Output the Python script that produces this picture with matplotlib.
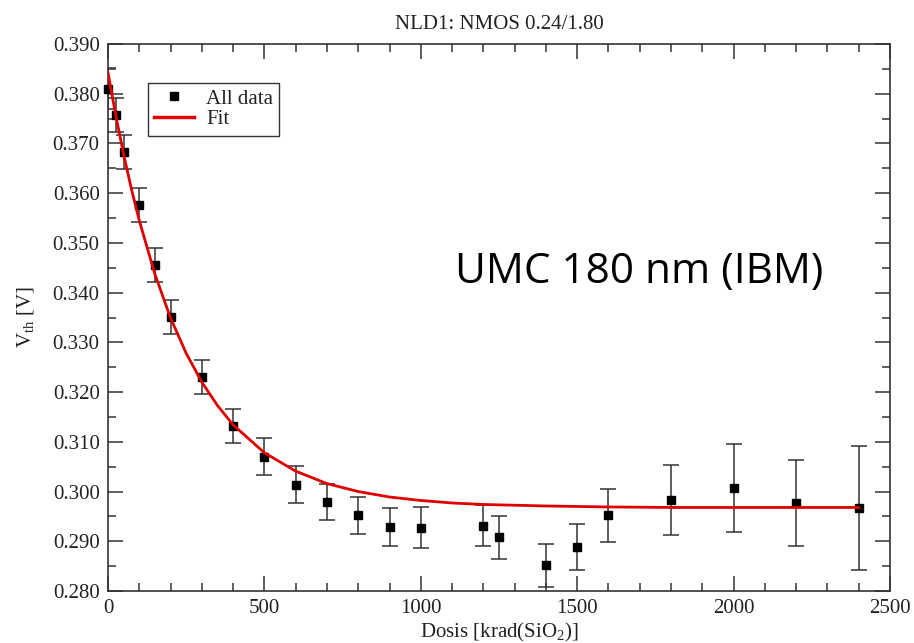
import matplotlib
matplotlib.use("Agg")
import matplotlib.pyplot as plt
from matplotlib.lines import Line2D
from matplotlib.ticker import MultipleLocator, FormatStrFormatter

# ---- data ----
dose = [0, 25, 50, 100, 150, 200, 300, 400, 500, 600, 700, 800, 900, 1000,
        1200, 1250, 1400, 1500, 1600, 1800, 2000, 2200, 2400]
vth = [0.3810, 0.3757, 0.3683, 0.3576, 0.3455, 0.3351, 0.3231, 0.3131, 0.3070,
       0.3014, 0.2979, 0.2952, 0.2929, 0.2927, 0.2931, 0.2908, 0.2852, 0.2888,
       0.2952, 0.2983, 0.3007, 0.2977, 0.2967]
vth_err = [0.0041, 0.0034, 0.0034, 0.0034, 0.0034, 0.0034, 0.0034, 0.0034, 0.0037,
           0.0037, 0.0036, 0.0038, 0.0038, 0.0041, 0.0041, 0.0043, 0.0043, 0.0046,
           0.0054, 0.0071, 0.0089, 0.0087, 0.0124]

fit_dose = [0, 25, 50, 75, 100, 150, 200, 250, 300, 350, 400, 500, 600, 700,
            800, 900, 1000, 1100, 1200, 1400, 1600, 1800, 2000, 2400]
fit_vth = [0.3842, 0.3756, 0.3678, 0.3608, 0.3545, 0.3437, 0.3349, 0.3278, 0.3220,
           0.3173, 0.3134, 0.3078, 0.3041, 0.3016, 0.3000, 0.2989, 0.2982, 0.2977,
           0.2974, 0.2971, 0.2969, 0.2968, 0.2968, 0.2968]

title = "NLD1: NMOS 0.24/1.80"
xlabel = "Dosis [krad(SiO$_{\\rm 2}$)]"
ylabel = "V$_{\\rm th}$ [V]"
note = "UMC 180 nm (IBM)"
legend_labels = ["All data", "Fit"]

plt.rcParams['font.family'] = ['Liberation Serif', 'DejaVu Serif']
plt.rcParams['mathtext.fontset'] = 'custom'
plt.rcParams['mathtext.rm'] = 'Liberation Serif'
plt.rcParams['mathtext.it'] = 'Liberation Serif:italic'
plt.rcParams['mathtext.bf'] = 'Liberation Serif:bold'

fig = plt.figure(figsize=(9.14, 6.43), dpi=100)
ax = fig.add_axes([108/914, 1 - 591/643, 782/914, 547/643])

txtcol = '#222222'
spcol = '#333333'
fitcol = '#e00000'

eb = ax.errorbar(dose, vth, yerr=vth_err, fmt='s', color='black', markersize=6,
                 ecolor=spcol, elinewidth=1.1, capsize=6, capthick=1.1,
                 zorder=3)
eb[0].set_clip_on(False)
ax.plot(fit_dose, fit_vth, color=fitcol, linewidth=2.0, zorder=4)

ax.set_xlim(0, 2500)
ax.set_ylim(0.280, 0.390)
ax.xaxis.set_major_locator(MultipleLocator(500))
ax.xaxis.set_minor_locator(MultipleLocator(100))
ax.yaxis.set_major_locator(MultipleLocator(0.01))
ax.yaxis.set_minor_locator(MultipleLocator(0.005))
ax.yaxis.set_major_formatter(FormatStrFormatter('%.3f'))

ax.tick_params(which='both', direction='in', top=True, right=True,
               color=spcol, labelcolor=txtcol, labelsize=15)
ax.tick_params(which='major', length=11, width=1.1, pad=6)
ax.tick_params(which='minor', length=6, width=1.1)
for s in ax.spines.values():
    s.set_color(spcol)
    s.set_linewidth(1.2)

ax.set_title(title, fontsize=15, color=txtcol, pad=11)
ax.set_xlabel(xlabel, fontsize=15, color=txtcol)
ax.set_ylabel(ylabel, fontsize=15, color=txtcol)
ax.xaxis.set_label_coords(0.5, -0.054)
ax.yaxis.set_label_coords(-0.092, 0.5)

handles = [Line2D([], [], linestyle='none', marker='s', markersize=6, color='black'),
           Line2D([], [], color=fitcol, linewidth=2.5)]
leg = ax.legend(handles, legend_labels, loc='upper left',
                bbox_to_anchor=(0.051, 0.929), borderaxespad=0,
                fontsize=15, frameon=True, fancybox=False, handlelength=1.9,
                handletextpad=0.6, borderpad=0.3, labelspacing=0.05,
                labelcolor=txtcol)
leg.get_frame().set_edgecolor('black')
leg.get_frame().set_linewidth(1.0)

fig.text(455/914, 1 - 283/643, note, family=['Open Sans', 'DejaVu Sans'],
         fontsize=30.4, color='black', ha='left', va='baseline')

fig.savefig('out.png', dpi=100)
